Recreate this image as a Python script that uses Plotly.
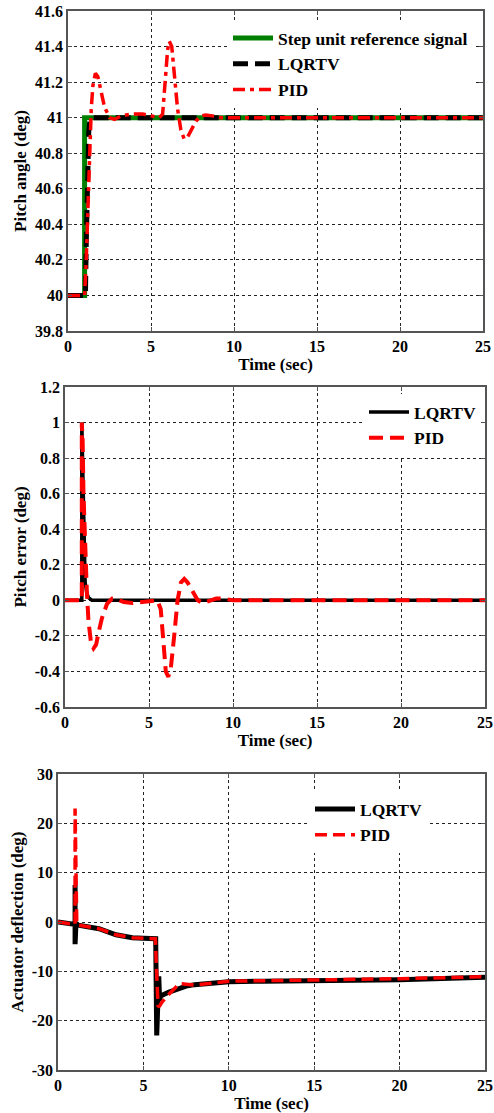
import plotly.graph_objects as go

# ---------------- data: pitch angle ----------------
ref_t = [0, 1.0, 1.0, 25]
ref_y = [40, 40, 41, 41]

lqr_pitch_t = [0, 1.05, 1.1, 1.15, 1.2, 1.25, 1.3, 1.4, 1.6, 25]
lqr_pitch_y = [40, 40, 40.3, 40.6, 40.8, 40.92, 40.97, 41.0, 41.0, 41.0]

pid_pitch_t = [0, 1.0, 1.1, 1.2, 1.3, 1.4, 1.5, 1.65, 1.8, 2.0, 2.2, 2.5, 2.8, 3.2, 3.8,
               4.5, 5.0, 5.5, 5.7, 5.85, 6.0, 6.1, 6.25, 6.4, 6.6, 6.8, 7.0, 7.2, 7.4,
               7.7, 8.0, 8.3, 8.7, 9.2, 10, 25]
pid_pitch_y = [40, 40, 40.2, 40.5, 40.8, 41.05, 41.18, 41.25, 41.23, 41.15, 41.06, 41.0,
               40.99, 41.01, 41.02, 41.02, 41.01, 41.0, 41.02, 41.2, 41.38, 41.43, 41.4,
               41.25, 41.05, 40.93, 40.88, 40.89, 40.93, 40.98, 41.01, 41.015, 41.01,
               41.0, 41.0, 41.0]

# ---------------- data: pitch error ----------------
lqr_err_t = [0, 1.0, 1.0, 1.05, 1.1, 1.15, 1.2, 1.3, 1.4, 1.6, 25]
lqr_err_y = [0, 0, 1.0, 0.7, 0.4, 0.2, 0.1, 0.04, 0.015, 0, 0]

pid_err_t = [0, 1.0, 1.0, 1.05, 1.1, 1.2, 1.3, 1.4, 1.55, 1.7, 1.85, 2.0, 2.2, 2.5, 2.8,
             3.1, 3.5, 4.0, 4.5, 5.0, 5.5, 5.7, 5.85, 6.0, 6.15, 6.3, 6.5, 6.7, 6.9,
             7.1, 7.3, 7.6, 7.9, 8.2, 8.6, 9.0, 9.4, 10, 25]
pid_err_y = [0, 0, 1.0, 0.9, 0.6, 0.3, 0.05, -0.12, -0.24, -0.27, -0.25, -0.18, -0.1,
             -0.02, 0.01, 0.005, -0.01, -0.015, -0.01, 0.0, 0.0, -0.05, -0.25, -0.4,
             -0.43, -0.38, -0.2, 0.0, 0.1, 0.12, 0.1, 0.05, 0.0, -0.015, -0.005, 0.01,
             0.01, 0.0, 0.0]

# ---------------- data: actuator deflection ----------------
lqr_act_t = [0, 0.95, 1.0, 1.0, 1.0, 1.05, 1.1, 2.4, 3.4, 4.35, 5.0, 5.72, 5.78, 5.85,
             5.9, 5.95, 6.0, 6.5, 7.0, 7.5, 8.0, 9.0, 10, 12, 15, 20, 25]
lqr_act_y = [0, -0.5, -0.5, 7.5, -4.5, -0.5, -0.6, -1.35, -2.6, -3.2, -3.3, -3.4, -23,
             -18, -11, -16, -15, -14.2, -13.5, -13.0, -12.7, -12.4, -12.1, -12.0,
             -11.9, -11.7, -11.2]

pid_act_t = [0, 0.95, 1.0, 1.0, 1.0, 1.05, 1.1, 2.4, 3.4, 4.35, 5.0, 5.7, 5.75, 5.86, 5.95,
             6.1, 6.4, 6.8, 7.1, 7.5, 8.0, 9.0, 10, 12, 15, 20, 25]
pid_act_y = [0, -0.5, -0.5, 23, 23, -0.5, -0.6, -1.35, -2.6, -3.2, -3.3, -3.4, -8, -17.2,
             -17, -16.2, -15, -13.5, -12.5, -12.6, -12.8, -12.4, -12.0, -11.9, -11.8,
             -11.5, -11.1]

# ---------------- ticks ----------------
x_ticks = [0, 5, 10, 15, 20, 25]
x_labels = ["0", "5", "10", "15", "20", "25"]
y1_ticks = [39.8, 40.0, 40.2, 40.4, 40.6, 40.8, 41.0, 41.2, 41.4, 41.6]
y1_labels = ["39.8", "40", "40.2", "40.4", "40.6", "40.8", "41", "41.2", "41.4", "41.6"]
y2_ticks = [-0.6, -0.4, -0.2, 0, 0.2, 0.4, 0.6, 0.8, 1.0, 1.2]
y2_labels = ["-0.6", "-0.4", "-0.2", "0", "0.2", "0.4", "0.6", "0.8", "1", "1.2"]
y3_ticks = [-30, -20, -10, 0, 10, 20, 30]
y3_labels = ["-30", "-20", "-10", "0", "10", "20", "30"]

W, H = 494, 1113
FONT = "Liberation Serif"

fig = go.Figure()

# top
fig.add_trace(go.Scatter(x=ref_t, y=ref_y, mode="lines", name="Step unit reference signal",
                         line=dict(color="#008000", width=5), xaxis="x", yaxis="y",
                         legend="legend"))
fig.add_trace(go.Scatter(x=lqr_pitch_t, y=lqr_pitch_y, mode="lines", name="LQRTV",
                         line=dict(color="black", width=5, dash="15px,7px"),
                         xaxis="x", yaxis="y", legend="legend"))
fig.add_trace(go.Scatter(x=pid_pitch_t, y=pid_pitch_y, mode="lines", name="PID",
                         line=dict(color="red", width=3.5, dash="12px,5px,4px,5px"),
                         xaxis="x", yaxis="y", legend="legend"))
# middle
fig.add_trace(go.Scatter(x=lqr_err_t, y=lqr_err_y, mode="lines", name="LQRTV",
                         line=dict(color="black", width=3.5), xaxis="x2", yaxis="y2",
                         legend="legend2"))
fig.add_trace(go.Scatter(x=pid_err_t, y=pid_err_y, mode="lines", name="PID",
                         line=dict(color="red", width=4, dash="14px,7px"),
                         xaxis="x2", yaxis="y2", legend="legend2"))
# bottom
fig.add_trace(go.Scatter(x=lqr_act_t, y=lqr_act_y, mode="lines", name="LQRTV",
                         line=dict(color="black", width=5), xaxis="x3", yaxis="y3",
                         legend="legend3"))
fig.add_trace(go.Scatter(x=pid_act_t, y=pid_act_y, mode="lines", name="PID",
                         line=dict(color="red", width=3.5, dash="12px,6px"),
                         xaxis="x3", yaxis="y3", legend="legend3"))

tickfont = dict(family=FONT, size=16, color="black", weight="bold")
titlefont = dict(family=FONT, size=17, color="black", weight="bold")


def xax(domain, anchor):
    return dict(domain=domain, anchor=anchor, range=[0, 25], tickvals=x_ticks,
                ticktext=x_labels, showgrid=True, gridcolor="#222", griddash="3px,3px",
                gridwidth=1, showline=True, linecolor="#555", linewidth=1.5,
                mirror="ticks", ticks="inside", ticklen=4, tickcolor="#555",
                tickfont=tickfont, zeroline=False, automargin=False,
                ticklabeloverflow="allow",
                title=dict(text="Time (sec)", font=titlefont, standoff=1))


def yax(domain, anchor, rng, tv, tt, title, standoff):
    return dict(domain=domain, anchor=anchor, range=rng, tickvals=tv, ticktext=tt,
                showgrid=True, gridcolor="#222", griddash="3px,3px", gridwidth=1,
                showline=True, linecolor="#555", linewidth=1.5, mirror="ticks",
                ticks="inside", ticklen=4, tickcolor="#555", tickfont=tickfont,
                zeroline=False, automargin=False, ticklabeloverflow="allow",
                title=dict(text=title, font=titlefont, standoff=standoff))


legfont = dict(family=FONT, size=17.5, color="black", weight="bold")

fig.update_layout(
    width=W, height=H, autosize=False,
    margin=dict(l=0, r=0, t=0, b=0),
    paper_bgcolor="white", plot_bgcolor="white",
    xaxis=xax([68 / W, 483 / W], "y"),
    yaxis=yax([1 - 331 / H, 1 - 11 / H], "x", [39.8, 41.6], y1_ticks, y1_labels,
              "Pitch angle (deg)", 4),
    xaxis2=xax([65 / W, 485 / W], "y2"),
    yaxis2=yax([1 - 707 / H, 1 - 387 / H], "x2", [-0.6, 1.2], y2_ticks, y2_labels,
               "Pitch error (deg)", 4),
    xaxis3=xax([58 / W, 485 / W], "y3"),
    yaxis3=yax([1 - 1070 / H, 1 - 774 / H], "x3", [-30, 30], y3_ticks, y3_labels,
               "Actuator deflection (deg)", 4),
    legend=dict(x=228 / W, y=1 - 20 / H, xanchor="left", yanchor="top",
                bgcolor="white", font=legfont, tracegroupgap=0,
                itemwidth=40),
    legend2=dict(x=364 / W, y=1 - 394 / H, xanchor="left", yanchor="top",
                 bgcolor="white", font=legfont, itemwidth=40),
    legend3=dict(x=310 / W, y=1 - 791 / H, xanchor="left", yanchor="top",
                 bgcolor="white", font=legfont, itemwidth=40),
)

fig.write_html("out.html")
